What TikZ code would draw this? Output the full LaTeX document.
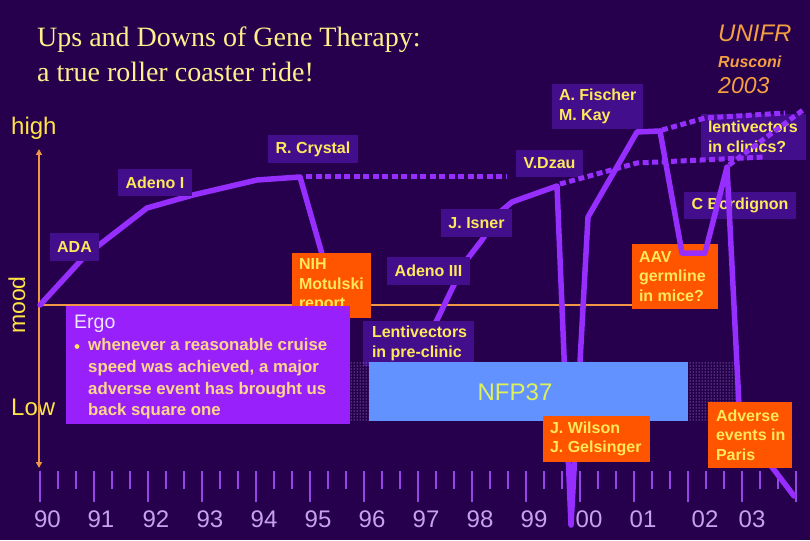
\documentclass[tikz,border=0pt]{standalone}
\usepackage{fontspec}
\setmainfont{Liberation Serif}
\setsansfont{Liberation Sans}
\usetikzlibrary{arrows.meta,patterns}
\definecolor{bg}{RGB}{38,0,76}
\definecolor{boxc}{RGB}{66,14,140}
\definecolor{ride}{RGB}{150,46,255}
\definecolor{ergoc}{RGB}{152,32,250}
\definecolor{orangebox}{RGB}{255,85,0}
\definecolor{labc}{RGB}{255,232,90}
\definecolor{ergotext}{RGB}{255,214,138}
\definecolor{ergohead}{RGB}{240,230,255}
\definecolor{nfpc}{RGB}{98,146,255}
\definecolor{nfptext}{RGB}{222,240,90}
\definecolor{yearc}{RGB}{200,160,240}
\definecolor{tickc}{RGB}{150,70,230}
\definecolor{axisc}{RGB}{240,150,70}
\definecolor{titlec}{RGB}{255,238,140}
\definecolor{signc}{RGB}{244,160,64}
\definecolor{moodc}{RGB}{255,228,70}
\definecolor{dotpat}{RGB}{215,205,255}
\begin{document}
\begin{tikzpicture}[x=1pt,y=-1pt,
  labfont/.style={font=\sffamily\bfseries\fontsize{16}{19.5}\selectfont},
  lab/.style={fill=boxc, text=labc, inner sep=0pt, labfont},
  warn/.style={lab, fill=orangebox},
  boxtext/.style={anchor=west, inner sep=0pt, text=labc, align=left, labfont},
  ridesolid/.style={draw=ride, line width=5.5pt, line join=round, line cap=round},
  ridedots/.style={draw=ride, line width=5pt, dash pattern=on 6pt off 3.5pt},
  axisline/.style={draw=axisc, line width=1.8pt},
  tickline/.style={draw=tickc, line width=2.6pt},
  yearlab/.style={text=yearc, inner sep=0pt, anchor=base,
    font=\sffamily\fontsize{24}{24}\selectfont},
  axislab/.style={text=moodc, inner sep=0pt,
    font=\sffamily\fontsize{24}{24}\selectfont},
  signlab/.style={text=signc, inner sep=0pt, anchor=base west}]

% background and frame of the picture
\fill[bg] (0,0) rectangle (810,540);
\useasboundingbox (0,0) rectangle (810,540);

% title
\node[anchor=north west, inner sep=0pt, text=titlec, align=left,
  font=\rmfamily\fontsize{28}{35}\selectfont] (title) at (37,27)
  {Ups and Downs of Gene Therapy:\\a true roller coaster ride!};

% signature
\node[signlab, font=\sffamily\itshape\fontsize{24}{24}\selectfont] (unifr) at (718,42) {UNIFR};
\node[signlab, font=\sffamily\bfseries\itshape\fontsize{16}{16}\selectfont] (rusconi) at (718,68) {Rusconi};
\node[signlab, font=\sffamily\itshape\fontsize{23}{23}\selectfont] (year) at (718,94) {2003};

% axis labels
\node[axislab, anchor=base west] (high) at (11,135) {high};
\node[axislab, anchor=base west] (low) at (11,415) {Low};
\node[axislab, rotate=90, font=\sffamily\fontsize{23}{23}\selectfont] (mood) at (17,305) {mood};

% axes
\coordinate (origin) at (40,305);
\coordinate (axtop) at (39,149);
\coordinate (axbot) at (39,468);
\draw[axisline, {Triangle[width=6pt,length=6pt]}-{Triangle[width=6pt,length=6pt]}] (axtop) -- (axbot);

% ticks
\foreach \k in {0,...,42}{
  \pgfmathsetmacro\xx{40+18*\k}
  \pgfmathtruncatemacro\mm{mod(\k,3)}
  \ifnum\mm=0
    \draw[tickline] (\xx,471) -- (\xx,502);
  \else
    \draw[tickline] (\xx,471) -- (\xx,489);
  \fi
}
% years
\foreach \yy/\xp in {90/47.5,91/101,92/156,93/210,94/264,95/318,96/372,97/426,98/480,99/534,00/589,01/643,02/705,03/752}{
  \node[yearlab] (y\yy) at (\xp,527) {\yy};
}

% horizontal baseline of the mood axis
\draw[axisline] (origin) -- (632,305) coordinate (baseend);

% ride: first climb and drop
\draw[ridesolid] (origin) -- (85,256) -- (147,208) -- (193,195) -- (257,180)
  -- (300,177) coordinate (crystalpeak) -- (330,282);
\draw[ridedots] (306,176) -- (507,176);

% ride: second climb, drop, climb to Fischer
\draw[ridesolid] (430,332) -- (437,320) -- (465,262) -- (482,240) -- (500,212)
  -- (512,202) -- (557,186) coordinate (dzaupeak) -- (571,525) -- (588,217)
  -- (637,132) -- (660,131) coordinate (fischerpeak);

% label boxes
\node[lab, minimum width=49, minimum height=28] (ada) at (74.5,247) {ADA};
\node[lab, minimum width=74, minimum height=27] (adeno1) at (155,182.5) {Adeno I};
\node[lab, minimum width=90, minimum height=28] (crystal) at (313,149) {R. Crystal};
\node[warn, minimum width=79, minimum height=65] (nih) at (331.5,285.5) {};
\node[boxtext] (nihtxt) at ([xshift=7pt]nih.west) {NIH\\Motulski\\report};

% Ergo box
\fill[ergoc] (66,306) rectangle (350,424);
\node[anchor=base west, inner sep=0pt, text=ergohead,
  font=\sffamily\fontsize{19.5}{19.5}\selectfont] (ergo) at (74,328) {Ergo};
\fill[labc] (77,346.5) circle (2.4);
\node[anchor=north west, inner sep=0pt, text=ergotext, align=left,
  font=\sffamily\bfseries\fontsize{16.8}{21.7}\selectfont] (ergotxt) at (88,338.5)
  {whenever a reasonable cruise\\speed was achieved, a major\\adverse event has brought us\\back square one};

\node[lab, minimum width=111, minimum height=45] (lentipre) at (418.5,343.5) {};
\node[boxtext] (lentipretxt) at ([xshift=9pt]lentipre.west) {Lentivectors\\in pre-clinic};
\node[lab, minimum width=83, minimum height=28] (adeno3) at (428.5,271) {Adeno III};
\node[lab, minimum width=71, minimum height=28] (isner) at (476.5,223) {J. Isner};
\node[lab, minimum width=67, minimum height=27] (dzau) at (549.5,163.5) {V.Dzau};
\node[lab, minimum width=91, minimum height=45] (fischer) at (597.5,106.5) {};
\node[boxtext] (fischertxt) at ([xshift=7pt]fischer.west) {A. Fischer\\M. Kay};

% NFP37 programme
\fill[pattern=dots, pattern color=dotpat] (350,362) rectangle (369,421);
\fill[pattern=dots, pattern color=dotpat] (688,362) rectangle (740,421);
\node[fill=nfpc, minimum width=319, minimum height=59, inner sep=0pt] (nfp) at (528.5,391.5) {};
\node[text=nfptext, inner sep=0pt, font=\sffamily\fontsize{24}{24}\selectfont] (nfptxt)
  at (515,392) {NFP37};

\node[warn, minimum width=107, minimum height=46] (wilson) at (596.5,439) {};
\node[boxtext] (wilsontxt) at ([xshift=7pt]wilson.west) {J. Wilson\\J. Gelsinger};
\node[warn, minimum width=86, minimum height=65] (aav) at (675,276.5) {};
\node[boxtext] (aavtxt) at ([xshift=7pt]aav.west) {AAV\\germline\\in mice?};
\node[lab, minimum width=105, minimum height=46] (lenticlin) at (753.5,137) {};
\node[boxtext] (lenticlintxt) at ([xshift=7pt]lenticlin.west) {lentivectors\\in clinics?};
\node[lab, minimum width=112, minimum height=27] (bordignon) at (740,205.5) {C Bordignon};

% ride: last section, drawn over the boxes
\draw[ridesolid] (fischerpeak) -- (682,253) -- (705,253) -- (727,167) coordinate (bordpeak)
  -- (740,425) -- (794,496);
\draw[ridedots] (560,184) -- (637,163) -- (765,157);
\draw[ridedots] (662,130) -- (705,118) -- (785,113);
\draw[ridedots] (729,165) -- (803,110);

\node[warn, minimum width=84, minimum height=66] (paris) at (750,435) {};
\node[boxtext] (paristxt) at ([xshift=8pt]paris.west) {Adverse\\events in\\Paris};
\end{tikzpicture}
\end{document}
